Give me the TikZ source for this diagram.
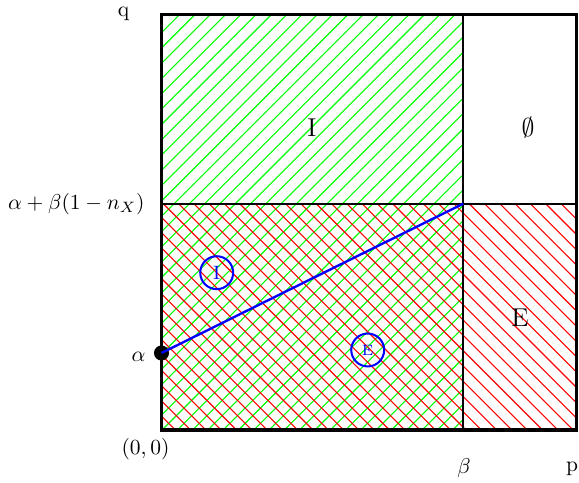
\documentclass[tikz,border=0pt]{standalone}
\usepackage{amssymb}
\begin{document}
\begin{tikzpicture}[x=0.465pt,y=-0.465pt,
  hatchG/.style={green, line width=0.5pt},
  hatchR/.style={red, line width=0.5pt},
  frame/.style={line width=1.5pt},
  divider/.style={line width=0.85pt},
  region/.style={font=\large, inner sep=0pt},
  lab/.style={inner sep=0pt},
  tag/.style={circle, draw=blue, text=blue, line width=0.95pt, minimum size=15.3pt, inner sep=0pt},
  dot/.style={circle, fill=black, minimum size=7pt, inner sep=0pt}]
\useasboundingbox (0,0) rectangle (579,483);
\coordinate (TL) at (161.5,14.5);
\coordinate (BR) at (576.5,430);
\coordinate (BL) at (161.5,430);
\coordinate (TM) at (463.3,14.5);
\coordinate (BM) at (463.3,430);
\coordinate (ML) at (161.5,203.7);
\coordinate (MR) at (576.5,203.7);
\coordinate (M) at (463.3,203.7);
% green hatching
\begin{scope}
  \clip (TL) rectangle (BM);
  \foreach \k in {-30,...,25}
    \draw[hatchG] ({592+15.3*\k},0) -- ({592+15.3*\k-600},600);
\end{scope}
% red hatching
\begin{scope}
  \clip (ML) rectangle (BR);
  \foreach \k in {-25,...,60}
    \draw[hatchR] ({-270+15.3*\k},0) -- ({-270+15.3*\k+600},600);
\end{scope}
% frame
\draw[frame] (TL) rectangle (BR);
\draw[divider] (TM) -- (BM);
\draw[divider] (ML) -- (MR);
% blue line and dot
\node[dot] (A) at (161.5,353) {};
\draw[blue, line width=1.1pt] (A.center) -- (M);
% labels
\node[lab] (q) at (123.5,14) {q};
\node[lab, anchor=east] (ab) at (145,204) {$\alpha+\beta(1-n_X)$};
\node[lab, anchor=east] (al) at (146,357) {$\alpha$};
\node[lab] (o) at (145.5,449) {$(0,0)$};
\node[lab] (b) at (464,468.5) {$\beta$};
\node[lab, anchor=east] (p) at (578.5,469) {p};
% region labels
\node[region] (RI) at (312,128) {I};
\node[region] (RO) at (528,128) {$\emptyset$};
\node[region] (RE) at (520,318) {E};
% tags
\node[tag, font=\small] (TI) at (216.7,272.7) {I};
\node[tag, font=\scriptsize] (TE) at (367.7,350) {E};
\end{tikzpicture}
\end{document}
